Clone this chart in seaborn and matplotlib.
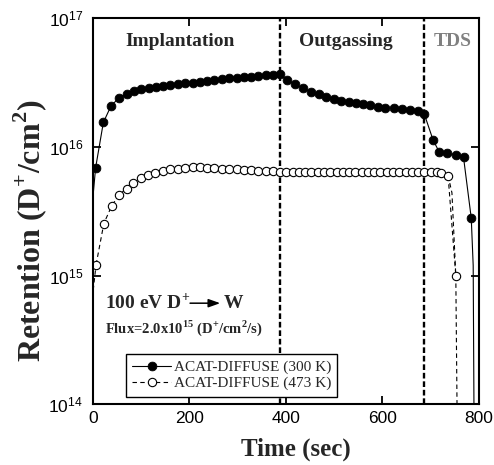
import pandas as pd
import seaborn as sns
import matplotlib.pyplot as plt
from matplotlib.ticker import NullLocator, FixedLocator

# ACAT-DIFFUSE (300 K), points with markers
time_300 = [6, 22, 38, 54, 70, 85, 100, 116, 131, 146, 161, 176, 192, 207, 222,
            237, 252, 268, 283, 298, 313, 328, 343, 358, 373, 388,
            403, 419, 436, 452, 468, 484, 499, 515, 530, 545, 560, 575, 590,
            606, 623, 640, 658, 673, 687,
            705, 718, 734, 752, 768, 784]
ret_300 = [6.9e15, 1.55e16, 2.09e16, 2.4e16, 2.6e16, 2.71e16, 2.8e16, 2.86e16,
           2.92e16, 2.97e16, 3.02e16, 3.07e16, 3.12e16, 3.17e16, 3.22e16,
           3.27e16, 3.32e16, 3.37e16, 3.41e16, 3.45e16, 3.49e16, 3.53e16,
           3.56e16, 3.6e16, 3.63e16, 3.67e16,
           3.3e16, 3.08e16, 2.85e16, 2.68e16, 2.56e16, 2.45e16, 2.35e16,
           2.28e16, 2.24e16, 2.2e16, 2.16e16, 2.12e16, 2.05e16,
           2.02e16, 2.0e16, 1.97e16, 1.94e16, 1.9e16, 1.79e16,
           1.13e16, 9.1e15, 8.9e15, 8.7e15, 8.3e15, 2.8e15]
# curve ends without markers
start_300 = (1, 4.3e15)
end_300 = (791, 1e13)

# ACAT-DIFFUSE (473 K), points with markers
time_473 = [7, 23, 39, 55, 70, 84, 99, 115, 130, 146, 161, 176, 192, 207, 222,
            237, 252, 268, 283, 298, 313, 328, 343, 358, 373, 388,
            401, 414, 427, 440, 453, 466, 479, 492, 505, 518, 531, 544, 557,
            570, 583, 596, 609, 622, 635, 648, 661, 674, 687,
            700, 713, 722, 736, 752]
ret_473 = [1.22e15, 2.54e15, 3.47e15, 4.27e15, 4.75e15, 5.26e15, 5.69e15,
           6.04e15, 6.33e15, 6.5e15, 6.7e15, 6.8e15, 6.9e15, 6.95e15, 6.95e15,
           6.9e15, 6.85e15, 6.8e15, 6.75e15, 6.7e15, 6.65e15, 6.6e15, 6.55e15,
           6.5e15, 6.45e15, 6.4e15,
           6.4e15, 6.4e15, 6.4e15, 6.4e15, 6.4e15, 6.4e15, 6.4e15, 6.4e15,
           6.4e15, 6.4e15, 6.4e15, 6.4e15, 6.4e15, 6.4e15, 6.4e15, 6.4e15,
           6.4e15, 6.4e15, 6.4e15, 6.4e15, 6.4e15, 6.4e15, 6.4e15,
           6.4e15, 6.35e15, 6.3e15, 6.0e15, 1.0e15]
start_473 = (1, 7.7e14)
bend_473 = (744, 4.4e15)
end_473 = (757, 1e13)

phase_bounds = [388, 687]
x_ticks = [0, 200, 400, 600, 800]
y_ticks = [1e14, 1e15, 1e16, 1e17]

sns.set_style("ticks")
plt.rcParams['font.family'] = ['Liberation Sans', 'DejaVu Sans']
plt.rcParams['mathtext.fontset'] = 'custom'
plt.rcParams['mathtext.rm'] = 'Liberation Serif'
plt.rcParams['mathtext.bf'] = 'Liberation Serif:bold'
serif = ['Liberation Serif', 'DejaVu Serif']

fig = plt.figure(figsize=(4.94, 4.65), dpi=100)
ax = fig.add_axes([0.1877, 0.1305, 0.7819, 0.8301])

df300 = pd.DataFrame({'t': time_300, 'r': ret_300})
df473 = pd.DataFrame({'t': time_473, 'r': ret_473})

# connecting pieces beyond the marked points
ax.plot([start_300[0], time_300[0]], [start_300[1], ret_300[0]], color='k', lw=0.8)
ax.plot([time_300[-1], 788, end_300[0]], [ret_300[-1], 1.2e15, end_300[1]], color='k', lw=0.8)
ax.plot([start_473[0], time_473[0]], [start_473[1], ret_473[0]], color='k', lw=0.8,
        ls=(0, (4, 3)))
ax.plot([time_473[-2], bend_473[0], time_473[-1]], [ret_473[-2], bend_473[1], ret_473[-1]],
        color='k', lw=0.8, ls=(0, (4, 3)))
ax.plot([time_473[-1], end_473[0]], [ret_473[-1], end_473[1]], color='k', lw=0.8,
        ls=(0, (4, 3)))

sns.lineplot(data=df300, x='t', y='r', ax=ax, color='k', lw=0.8, marker='o',
             markersize=6.3, markerfacecolor='k', markeredgecolor='k',
             markeredgewidth=0.6, label='ACAT-DIFFUSE (300 K)')
sns.lineplot(data=df473, x='t', y='r', ax=ax, color='k', lw=0.8, ls=(0, (4, 3)),
             marker='o', markersize=6.0, markerfacecolor='white',
             markeredgecolor='k', markeredgewidth=0.8,
             label='ACAT-DIFFUSE (473 K)')

for b in phase_bounds:
    ax.axvline(b, color='k', lw=1.7, ls=(0, (2.4, 1.2)), zorder=1)

ax.set_yscale('log')
ax.set_xlim(0, 800)
ax.set_ylim(1e14, 1e17)
ax.xaxis.set_major_locator(FixedLocator(x_ticks))
ax.yaxis.set_major_locator(FixedLocator(y_ticks))
ax.yaxis.set_minor_locator(NullLocator())
ax.tick_params(direction='in', top=True, right=True, length=6, width=1.3,
               labelsize=12.5, colors='k')
ax.tick_params(axis='x', pad=5)
ax.tick_params(axis='y', pad=7)
for s in ax.spines.values():
    s.set_linewidth(1.5)
    s.set_color('k')

ax.set_xlabel('Time (sec)', fontsize=18, fontweight='bold', family=serif)
ax.xaxis.set_label_coords(0.525, -0.085)
ax.set_ylabel(r'Retention (D$^{\mathbf{+}}$/cm$^{\mathbf{2}}$)', fontsize=23,
              fontweight='bold', family=serif)
ax.yaxis.set_label_coords(-0.113, 0.45)

ax.text(0.226, 0.939, 'Implantation', transform=ax.transAxes, ha='center', va='center',
        fontsize=14, fontweight='bold', family=serif)
ax.text(0.656, 0.939, 'Outgassing', transform=ax.transAxes, ha='center', va='center',
        fontsize=14, fontweight='bold', family=serif)
ax.text(0.933, 0.939, 'TDS', transform=ax.transAxes, ha='center', va='center',
        fontsize=14, fontweight='bold', family=serif, color='#808080')

ax.text(0.032, 0.249, r'100 eV D$^{\mathbf{+}}$', transform=ax.transAxes, ha='left',
        va='baseline', fontsize=14, fontweight='bold', family=serif)
ax.annotate('', xy=(0.33, 0.262), xytext=(0.252, 0.262), xycoords='axes fraction',
            arrowprops=dict(arrowstyle='-|>,head_length=0.7,head_width=0.25',
                            color='k', lw=1.1, shrinkA=0, shrinkB=0))
ax.text(0.338, 0.249, 'W', transform=ax.transAxes, ha='left', va='baseline',
        fontsize=14, fontweight='bold', family=serif)
ax.text(0.032, 0.184, r'Flux=2.0x10$^{\mathbf{15}}$ (D$^{\mathbf{+}}$/cm$^{\mathbf{2}}$/s)',
        transform=ax.transAxes, ha='left', va='baseline', fontsize=10.5,
        fontweight='bold', family=serif)

leg = ax.legend(loc='lower left', bbox_to_anchor=(0.085, 0.02), borderaxespad=0,
                fancybox=False, edgecolor='k', framealpha=1,
                prop={'family': serif, 'size': 11}, handlelength=2.6,
                handletextpad=0.15, borderpad=0.4, labelspacing=0.15)
leg.get_frame().set_linewidth(1.0)

fig.savefig('out.png', dpi=100)
